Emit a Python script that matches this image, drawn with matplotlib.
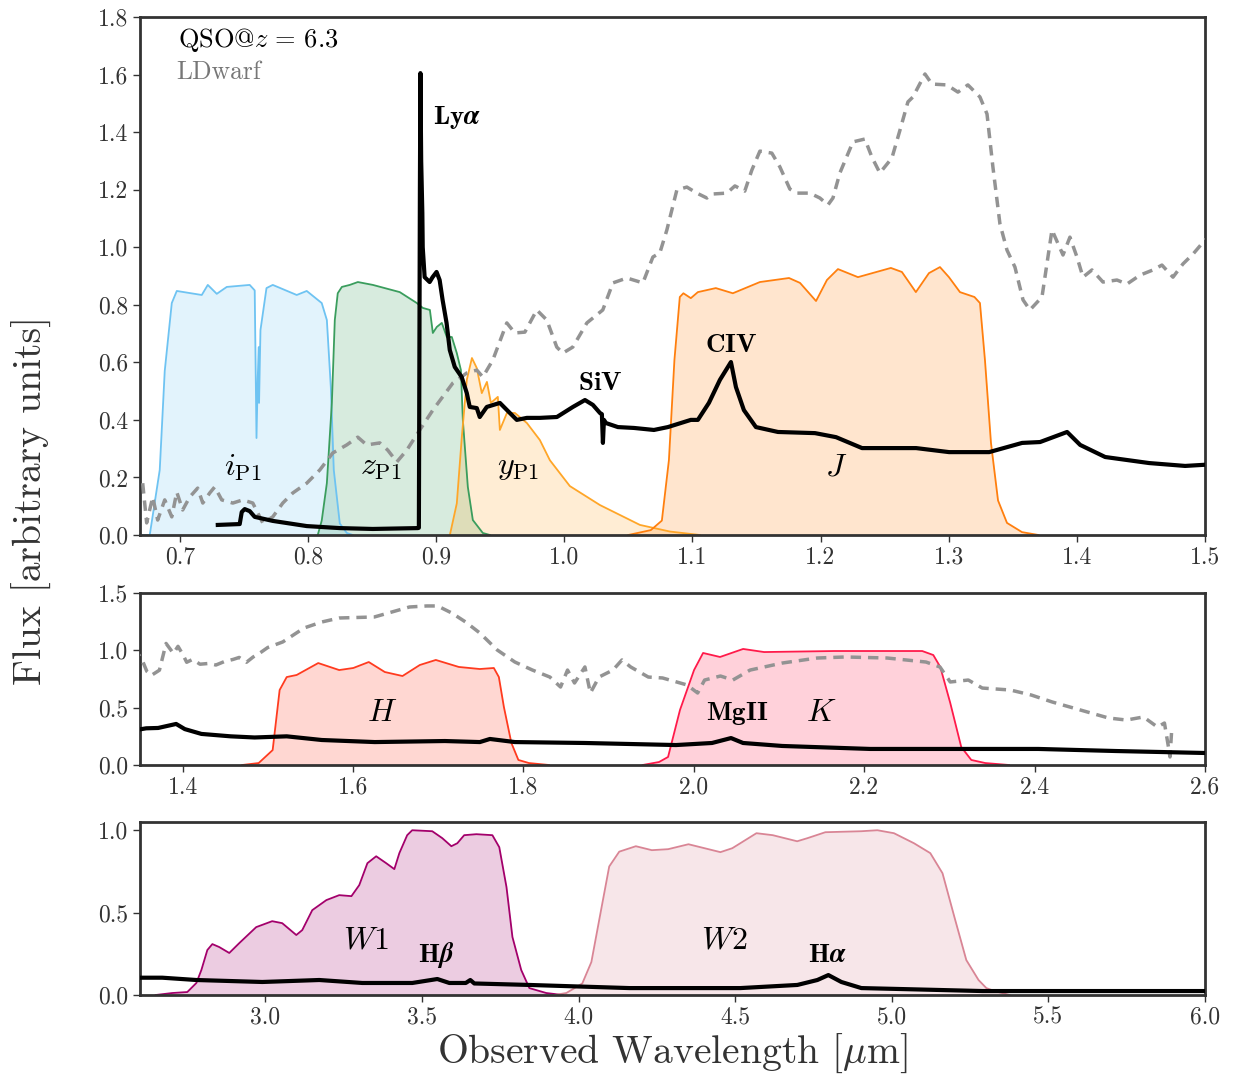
"""
QSO at z=6.3 and L dwarf spectra seen through the PS1 / 2MASS / WISE filters
"""

import numpy as np
import matplotlib
matplotlib.use('Agg')
import matplotlib.pyplot as plt
from matplotlib.ticker import FormatStrFormatter, MultipleLocator

plt.rcParams['font.family'] = 'serif'
plt.rcParams['font.serif'] = ['cmr10']
plt.rcParams['mathtext.fontset'] = 'cm'
plt.rcParams['axes.formatter.use_mathtext'] = True


# ---- filter transmission curves (wavelength in micron, scaled transmission) ----
i_wl = [0.6700, 0.6766, 0.6844, 0.6883, 0.6938, 0.6977, 0.7172, 0.7219, 0.7289, 0.7367, 0.7546,
        0.7585, 0.7599, 0.7609, 0.7617, 0.7619, 0.7630, 0.7677, 0.7726, 0.7913, 0.7991, 0.8108,
        0.8148, 0.8179, 0.8202, 0.8249, 0.8304, 0.8350]
i_tr = [0.0, 0.0, 0.226, 0.57, 0.806, 0.848, 0.834, 0.869, 0.838, 0.862, 0.869,
        0.85, 0.337, 0.55, 0.653, 0.459, 0.712, 0.858, 0.869, 0.834, 0.848, 0.806,
        0.747, 0.514, 0.226, 0.04, 0.007, 0.0]

z_wl = [0.8077, 0.8108, 0.8148, 0.8187, 0.8210, 0.8233, 0.8265, 0.8327, 0.8390, 0.8507, 0.8717,
        0.8850, 0.8897, 0.8952, 0.8975, 0.9006, 0.9045, 0.9084, 0.9123, 0.9162, 0.9194, 0.9209,
        0.9248, 0.9287, 0.9365, 0.9420]
z_tr = [0.0, 0.05, 0.18, 0.459, 0.747, 0.84, 0.862, 0.869, 0.879, 0.869, 0.844,
        0.806, 0.789, 0.782, 0.702, 0.723, 0.737, 0.688, 0.688, 0.632, 0.573, 0.40,
        0.167, 0.052, 0.007, 0.0]

y_wl = [0.9108, 0.9162, 0.9201, 0.9240, 0.9280, 0.9318, 0.9357, 0.9397, 0.9428, 0.9482, 0.9498,
        0.9553, 0.9615, 0.9709, 0.9810, 0.9888, 1.0044, 1.0279, 1.0591, 1.0825, 1.1059]
y_tr = [0.0, 0.11, 0.34, 0.539, 0.615, 0.58, 0.493, 0.532, 0.459, 0.48, 0.365,
        0.424, 0.424, 0.389, 0.33, 0.26, 0.17, 0.104, 0.035, 0.012, 0.0]

J_wl = [1.0500, 1.0676, 1.0762, 1.0817, 1.0860, 1.0902, 1.0930, 1.0988, 1.1043, 1.1183, 1.1316,
        1.1527, 1.1754, 1.1840, 1.1965, 1.2050, 1.2136, 1.2292, 1.2549, 1.2635, 1.2744, 1.2846,
        1.2932, 1.3002, 1.3088, 1.3201, 1.3244, 1.3283, 1.3330, 1.3385, 1.3455, 1.3572, 1.3700]
J_tr = [0.0, 0.017, 0.05, 0.26, 0.608, 0.827, 0.84, 0.823, 0.844, 0.858, 0.84,
        0.879, 0.893, 0.876, 0.813, 0.886, 0.924, 0.896, 0.928, 0.914, 0.844, 0.91,
        0.931, 0.896, 0.844, 0.827, 0.806, 0.608, 0.32, 0.12, 0.042, 0.01, 0.0]

H_wl = [1.4700, 1.4893, 1.5057, 1.5139, 1.5222, 1.5339, 1.5592, 1.5838, 1.6004, 1.6185, 1.6373,
        1.6581, 1.6784, 1.6972, 1.7242, 1.7489, 1.7653, 1.7712, 1.7771, 1.7859, 1.7941, 1.8065,
        1.8300]
H_tr = [0.0, 0.017, 0.13, 0.654, 0.767, 0.785, 0.889, 0.828, 0.846, 0.898, 0.811,
        0.776, 0.872, 0.916, 0.855, 0.837, 0.846, 0.767, 0.506, 0.192, 0.044, 0.017,
        0.0]

K_wl = [1.9400, 1.9592, 1.9698, 1.9838, 2.0003, 2.0109, 2.0308, 2.0579, 2.0825, 2.1648, 2.2681,
        2.2811, 2.2893, 2.3010, 2.3139, 2.3257, 2.3421, 2.3700]
K_tr = [0.0, 0.026, 0.07, 0.48, 0.828, 0.977, 0.942, 1.012, 0.985, 0.994, 0.994,
        0.959, 0.855, 0.541, 0.157, 0.044, 0.017, 0.0]

W1_wl = [2.650, 2.703, 2.751, 2.780, 2.796, 2.815, 2.831, 2.853, 2.885, 2.917, 2.971, 3.022,
         3.054, 3.099, 3.118, 3.150, 3.195, 3.236, 3.275, 3.300, 3.326, 3.354, 3.386, 3.412,
         3.428, 3.453, 3.469, 3.533, 3.565, 3.594, 3.613, 3.635, 3.674, 3.725, 3.747, 3.770,
         3.789, 3.817, 3.843, 3.897, 3.950]
W1_tr = [0.0, 0.012, 0.018, 0.073, 0.152, 0.273, 0.309, 0.291, 0.255, 0.315, 0.412, 0.448,
         0.436, 0.364, 0.394, 0.515, 0.576, 0.606, 0.60, 0.667, 0.80, 0.842, 0.80, 0.764,
         0.861, 0.97, 1.0, 0.994, 0.952, 0.903, 0.921, 0.97, 0.976, 0.97, 0.897, 0.655,
         0.352, 0.152, 0.042, 0.012, 0.0]

W2_wl = [3.923, 3.961, 4.012, 4.041, 4.066, 4.098, 4.130, 4.183, 4.234, 4.286, 4.351, 4.453,
         4.491, 4.568, 4.620, 4.698, 4.731, 4.788, 4.903, 4.954, 5.007, 5.071, 5.123, 5.162,
         5.200, 5.238, 5.277, 5.302, 5.328, 5.376]
W2_tr = [0.0, 0.012, 0.07, 0.2, 0.455, 0.78, 0.87, 0.903, 0.879, 0.885, 0.915, 0.867,
         0.891, 0.982, 0.97, 0.933, 0.952, 0.988, 0.994, 1.0, 0.982, 0.921, 0.861, 0.739,
         0.473, 0.212, 0.091, 0.042, 0.024, 0.0]

# ---- QSO spectrum at z = 6.3 ----
qso_wl = [0.7297, 0.7468, 0.7484, 0.7507, 0.7546, 0.7585, 0.7726, 0.7991, 0.8249, 0.8506,
          0.8858, 0.8866, 0.8874, 0.8878, 0.8884, 0.8893, 0.8896, 0.8911, 0.8950, 0.8973,
          0.9004, 0.9028, 0.9051, 0.9082, 0.9107, 0.9146, 0.9200, 0.9240, 0.9263, 0.9318,
          0.9341, 0.9396, 0.9498, 0.9576, 0.9630, 0.9709, 0.9810, 0.9943, 1.0068, 1.0162,
          1.0224, 1.0279, 1.0294, 1.0302, 1.0310, 1.0326, 1.0419, 1.0544, 1.0700, 1.0809,
          1.0988, 1.1043, 1.1129, 1.1215, 1.1301, 1.1340, 1.1402, 1.1496, 1.1668, 1.1957,
          1.2121, 1.2324, 1.2582, 1.2746, 1.3003, 1.3316, 1.3573, 1.3713, 1.3924, 1.4026,
          1.4221, 1.4564, 1.4845, 1.5222, 1.5633, 1.6256, 1.7078, 1.7489, 1.7607, 1.7900,
          1.8722, 1.9791, 2.0214, 2.0437, 2.0578, 2.1037, 2.2070, 2.4044, 2.4949, 2.5982,
          2.6711, 2.7797, 2.9904, 3.1724, 3.3097, 3.4693, 3.5492, 3.5875, 3.6400, 3.6545,
          3.6673, 3.8429, 4.1622, 4.5166, 4.6986, 4.7625, 4.7976, 4.8391, 4.9030, 5.0338,
          5.2893, 5.9980]
qso_fl = [0.035, 0.038, 0.08, 0.09, 0.083, 0.063, 0.049, 0.031, 0.024, 0.021,
          0.024, 0.025, 1.2, 1.605, 1.3, 1.119, 1.0, 0.896, 0.879, 0.896,
          0.914, 0.886, 0.817, 0.737, 0.643, 0.584, 0.549, 0.493, 0.445, 0.441,
          0.41, 0.445, 0.459, 0.424, 0.40, 0.407, 0.407, 0.41, 0.445, 0.469,
          0.452, 0.424, 0.42, 0.32, 0.40, 0.389, 0.375, 0.372, 0.365, 0.375,
          0.40, 0.40, 0.459, 0.539, 0.601, 0.514, 0.434, 0.375, 0.358, 0.354,
          0.34, 0.302, 0.302, 0.302, 0.288, 0.288, 0.32, 0.323, 0.358, 0.313,
          0.271, 0.25, 0.24, 0.25, 0.218, 0.20, 0.209, 0.20, 0.227, 0.20,
          0.192, 0.174, 0.192, 0.235, 0.192, 0.166, 0.14, 0.14, 0.122, 0.105,
          0.105, 0.091, 0.079, 0.091, 0.073, 0.073, 0.097, 0.073, 0.073, 0.091,
          0.07, 0.061, 0.042, 0.042, 0.061, 0.091, 0.121, 0.079, 0.042, 0.036,
          0.024, 0.024]

# ---- L dwarf template ----
ld_wl = [0.6711, 0.6742, 0.6789, 0.6828, 0.6883, 0.6938, 0.6977, 0.7023, 0.7078, 0.7140,
         0.7180, 0.7234, 0.7273, 0.7328, 0.7414, 0.7492, 0.7570, 0.7648, 0.7726, 0.7804,
         0.7882, 0.7991, 0.8093, 0.8194, 0.8303, 0.8389, 0.8459, 0.8561, 0.8623, 0.8694,
         0.8772, 0.8873, 0.8975, 0.9131, 0.9240, 0.9318, 0.9365, 0.9443, 0.9552, 0.9615,
         0.9693, 0.9786, 0.9864, 0.9942, 0.9989, 1.0067, 1.0177, 1.0301, 1.0380, 1.0489,
         1.0614, 1.0692, 1.0746, 1.0801, 1.0879, 1.0957, 1.1035, 1.1113, 1.1160, 1.1269,
         1.1332, 1.1409, 1.1464, 1.1527, 1.1620, 1.1683, 1.1761, 1.1816, 1.1917, 1.1995,
         1.2058, 1.2097, 1.2151, 1.2253, 1.2346, 1.2401, 1.2463, 1.2557, 1.2620, 1.2682,
         1.2721, 1.2815, 1.2869, 1.2986, 1.3072, 1.3150, 1.3244, 1.3299, 1.3345, 1.3400,
         1.3455, 1.3517, 1.3580, 1.3634, 1.3728, 1.3806, 1.3892, 1.3946, 1.4001, 1.4048,
         1.4118, 1.4204, 1.4313, 1.4391, 1.4493, 1.4594, 1.4664, 1.4750, 1.4828, 1.4906,
         1.5000, 1.5175, 1.5426, 1.5633, 1.5838, 1.6251, 1.6415, 1.6663, 1.6866, 1.6993,
         1.7158, 1.7322, 1.7489, 1.7693, 1.7900, 1.8106, 1.8311, 1.8436, 1.8518, 1.8600,
         1.8722, 1.8786, 1.8887, 1.9051, 1.9157, 1.9259, 1.9466, 1.9633, 1.9921, 2.0045,
         2.0127, 2.0313, 2.0458, 2.0661, 2.1037, 2.1448, 2.1777, 2.2270, 2.2725, 2.2889,
         2.3010, 2.3222, 2.3386, 2.3715, 2.3962, 2.4209, 2.4538, 2.4867, 2.5078, 2.5278,
         2.5442, 2.5524, 2.5571, 2.5589, 2.5607]
ld_fl = [0.18, 0.042, 0.132, 0.052, 0.122, 0.063, 0.149, 0.087, 0.132, 0.163,
         0.111, 0.146, 0.167, 0.122, 0.111, 0.122, 0.111, 0.042, 0.063, 0.111,
         0.146, 0.18, 0.226, 0.285, 0.313, 0.34, 0.313, 0.32, 0.295, 0.254,
         0.295, 0.365, 0.434, 0.528, 0.563, 0.573, 0.549, 0.608, 0.737, 0.702,
         0.705, 0.782, 0.747, 0.653, 0.632, 0.653, 0.737, 0.782, 0.876, 0.893,
         0.876, 0.966, 0.98, 1.06, 1.199, 1.209, 1.188, 1.171, 1.185, 1.188,
         1.213, 1.195, 1.268, 1.334, 1.327, 1.279, 1.202, 1.188, 1.188, 1.171,
         1.147, 1.171, 1.258, 1.366, 1.376, 1.313, 1.258, 1.31, 1.407, 1.505,
         1.522, 1.602, 1.567, 1.564, 1.539, 1.564, 1.522, 1.463, 1.279, 1.081,
         0.99, 0.931, 0.817, 0.782, 0.827, 1.06, 0.973, 1.035, 0.966, 0.896,
         0.921, 0.879, 0.886, 0.872, 0.903, 0.921, 0.938, 0.896, 0.942, 0.976,
         1.025, 1.073, 1.195, 1.247, 1.282, 1.291, 1.326, 1.378, 1.387, 1.387,
         1.326, 1.247, 1.151, 1.003, 0.898, 0.828, 0.767, 0.68, 0.828, 0.715,
         0.855, 0.628, 0.767, 0.828, 0.916, 0.855, 0.767, 0.759, 0.698, 0.628,
         0.741, 0.776, 0.741, 0.828, 0.889, 0.933, 0.942, 0.933, 0.898, 0.855,
         0.724, 0.741, 0.671, 0.654, 0.61, 0.549, 0.48, 0.41, 0.392, 0.419,
         0.331, 0.366, 0.157, 0.07, 0.279]

# filters shown in each panel
top_filters = [(i_wl, i_tr, '#6ec3f2'), (z_wl, z_tr, '#3a9d5d'),
               (y_wl, y_tr, '#ffa628'), (J_wl, J_tr, '#ff7f0e')]
mid_filters = [(H_wl, H_tr, '#ff3b1f'), (K_wl, K_tr, '#ff1a4a')]
bot_filters = [(W1_wl, W1_tr, '#a3006b'), (W2_wl, W2_tr, '#d98595')]

W, Hpx = 1234, 1077
fig = plt.figure(figsize=(W / 100, Hpx / 100), dpi=100)

def box(x0, y0, x1, y1):
    return [x0 / W, 1 - y1 / Hpx, (x1 - x0) / W, (y1 - y0) / Hpx]

ax1 = fig.add_axes(box(140, 17, 1205, 535))
ax2 = fig.add_axes(box(140, 593, 1205, 765))
ax3 = fig.add_axes(box(140, 822, 1205, 995))

for ax, flist in ((ax1, top_filters), (ax2, mid_filters), (ax3, bot_filters)):
    for wl, tr, c in flist:
        ax.fill_between(wl, 0, tr, color=c, alpha=0.2, lw=0, zorder=1)
        ax.plot(wl, tr, color=c, lw=1.3, zorder=2)
    ax.plot(ld_wl, ld_fl, color='#939393', lw=2.5, ls=(0, (3, 2)), zorder=3)
    ax.plot(qso_wl, qso_fl, color='k', lw=3, zorder=4)
    for s in ax.spines.values():
        s.set_color('#333333')
        s.set_linewidth(2)
    ax.tick_params(direction='out', length=5, width=1, color='#333333',
                   labelsize=17, labelcolor='#333333', top=False, right=False)
    ax.xaxis.set_major_formatter(FormatStrFormatter('%.1f'))
    ax.yaxis.set_major_formatter(FormatStrFormatter('%.1f'))

ax1.set_xlim(0.669, 1.5)
ax1.set_ylim(0, 1.8)
ax1.xaxis.set_major_locator(MultipleLocator(0.1))
ax1.yaxis.set_major_locator(MultipleLocator(0.2))

ax2.set_xlim(1.35, 2.6)
ax2.set_ylim(0, 1.5)
ax2.xaxis.set_major_locator(MultipleLocator(0.2))
ax2.yaxis.set_major_locator(MultipleLocator(0.5))

ax3.set_xlim(2.6, 6.0)
ax3.set_ylim(0, 1.05)
ax3.xaxis.set_major_locator(MultipleLocator(0.5))
ax3.yaxis.set_major_locator(MultipleLocator(0.5))

# labels
ax1.text(0.6984, 1.72, r'QSO@$z\,=\,6.3$', fontsize=19, va='center', ha='left')
ax1.text(0.6975, 1.61, 'LDwarf', fontsize=18.5, va='center', ha='left', color='#777777')

bold = dict(fontsize=19.5, ha='center', va='center', zorder=5)
ax1.text(0.9160, 1.452, r'$\mathbf{Ly}\boldsymbol{\alpha}$', **bold)
ax1.text(1.0278, 0.528, r'$\mathbf{SiV}$', **bold)
ax1.text(1.1300, 0.660, r'$\mathbf{CIV}$', **bold)
ax2.text(2.0508, 0.453, r'$\mathbf{MgII}$', **bold)
ax3.text(3.5460, 0.242, r'$\mathbf{H}\boldsymbol{\beta}$', **bold)
ax3.text(4.7940, 0.242, r'$\mathbf{H}\boldsymbol{\alpha}$', **bold)

band = dict(fontsize=23, ha='center', va='center', zorder=5)
ax1.text(0.7490, 0.233, r'$i_{\rm P1}$', **band)
ax1.text(0.8569, 0.233, r'$z_{\rm P1}$', **band)
ax1.text(0.9638, 0.233, r'$y_{\rm P1}$', **band)
ax1.text(1.2120, 0.233, r'$J$', **band)
ax2.text(1.6338, 0.453, r'$H$', **band)
ax2.text(2.1495, 0.453, r'$K$', **band)
ax3.text(3.3225, 0.327, r'$W1$', **band)
ax3.text(4.4655, 0.327, r'$W2$', **band)

fig.text(32 / W, 1 - 500 / Hpx, 'Flux [arbitrary units]', rotation=90,
         fontsize=28.5, ha='center', va='center', color='#333333')
fig.text(672 / W, 1 - 1053 / Hpx, r'Observed Wavelength [$\mu$m]',
         fontsize=28.5, ha='center', va='center', color='#333333')

fig.savefig('out.png', dpi=100)
